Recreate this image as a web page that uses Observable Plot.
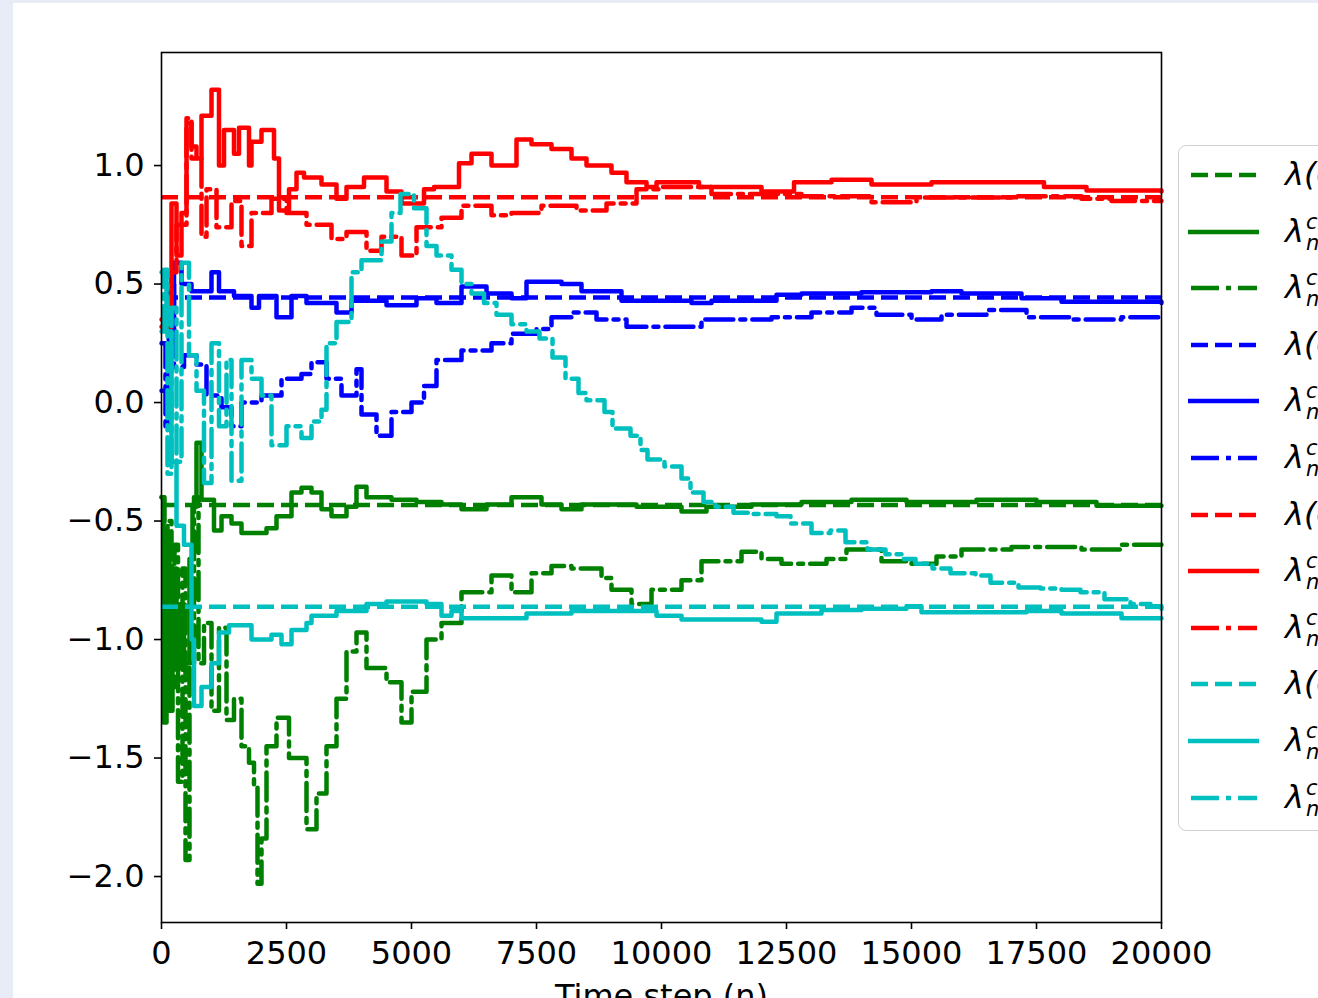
<!DOCTYPE html>
<html>
<head>
<meta charset="utf-8">
<script src="https://cdn.jsdelivr.net/npm/d3@7"></script>
<script src="https://cdn.jsdelivr.net/npm/@observablehq/plot@0.6"></script>
<style>
html,body{margin:0;padding:0;width:1318px;height:998px;overflow:hidden;background:#e8ecf7;}
#page{position:absolute;left:13px;top:3px;width:1305px;height:995px;background:#fff;overflow:hidden;}
#chart{position:absolute;left:-13px;top:-3px;}
#legend{position:absolute;left:1165px;top:142px;width:320px;height:684px;border:1.5px solid #d0d0d0;border-radius:8px;background:#fff;font-family:"DejaVu Sans",sans-serif;}
.row{position:absolute;left:0;height:56px;width:320px;}
.row svg{position:absolute;left:-3px;top:0;}
.lab{position:absolute;left:106px;top:6px;font-size:32px;font-style:oblique;line-height:40px;white-space:nowrap;color:#000;}
.lab .ss{display:inline-block;vertical-align:middle;font-size:21px;line-height:21px;margin-left:2px;}
</style>
</head>
<body>
<div id="page"><div id="chart"></div><div id="legend"></div></div>
<script>
// ---- data (time step, value) ----
const steps = [0, 2500, 5000, 7500, 10000, 12500, 15000, 17500, 20000];
const yTicks = [-2.0, -1.5, -1.0, -0.5, 0.0, 0.5, 1.0];
const colorNames = ["green", "blue", "red", "cyan"];
const trueLambda = [-0.432, 0.443, 0.866, -0.862];

const greenSolid = [[0,-0.40],[40,-1.35],[100,-0.60],[160,-1.30],[220,-0.70],[300,-1.10],[380,-0.85],[450,-1.10],[560,-0.66],[620,-0.44],[700,-0.17],[800,-0.41],[1050,-0.54],[1200,-0.48],[1400,-0.51],[1600,-0.55],[2100,-0.53],[2300,-0.48],[2600,-0.38],[2800,-0.36],[3000,-0.38],[3200,-0.45],[3400,-0.48],[3700,-0.44],[3900,-0.355],[4100,-0.40],[4600,-0.41],[5100,-0.42],[5600,-0.43],[6000,-0.45],[6500,-0.43],[7000,-0.40],[7600,-0.43],[8000,-0.45],[8400,-0.43],[9500,-0.44],[10400,-0.46],[10900,-0.44],[11800,-0.43],[12800,-0.42],[13800,-0.41],[14900,-0.42],[16300,-0.41],[17500,-0.42],[18700,-0.435],[20000,-0.435]];
const greenDashDot = [[0,-0.40],[60,-1.30],[120,-0.50],[200,-1.20],[260,-0.60],[330,-1.60],[420,-0.70],[480,-1.93],[560,-1.10],[650,-0.40],[740,-1.10],[850,-0.93],[1000,-1.30],[1150,-0.95],[1300,-1.34],[1450,-1.25],[1600,-1.45],[1750,-1.52],[1850,-1.62],[1920,-2.03],[2000,-1.84],[2100,-1.45],[2300,-1.33],[2550,-1.50],[2900,-1.80],[3100,-1.65],[3300,-1.45],[3500,-1.25],[3700,-1.05],[3900,-0.97],[4100,-1.12],[4500,-1.18],[4800,-1.35],[5000,-1.22],[5300,-1.00],[5600,-0.93],[6000,-0.80],[6600,-0.73],[7000,-0.80],[7400,-0.72],[7800,-0.69],[8200,-0.70],[8800,-0.74],[9000,-0.79],[9400,-0.85],[9800,-0.79],[10400,-0.75],[10800,-0.67],[11600,-0.63],[12000,-0.66],[12400,-0.68],[13300,-0.66],[13700,-0.62],[14400,-0.67],[15000,-0.68],[15500,-0.65],[16000,-0.62],[17000,-0.61],[18400,-0.62],[19200,-0.60],[20000,-0.60]];
const blueSolid = [[0,0.05],[150,0.30],[250,0.59],[400,0.50],[600,0.47],[1000,0.55],[1150,0.47],[1450,0.45],[1800,0.40],[1950,0.45],[2300,0.36],[2600,0.45],[2900,0.42],[3500,0.38],[3800,0.43],[4500,0.41],[5100,0.44],[5500,0.42],[6000,0.49],[6500,0.46],[7000,0.44],[7300,0.51],[8000,0.50],[8400,0.47],[9200,0.43],[10600,0.42],[11000,0.43],[12300,0.455],[12800,0.46],[14000,0.465],[15400,0.47],[16000,0.46],[17200,0.44],[18000,0.425],[20000,0.42]];
const blueDashDot = [[0,0.25],[80,-0.10],[150,0.50],[250,0.15],[450,0.20],[700,0.16],[900,0.03],[1200,-0.02],[1400,-0.10],[1600,0.0],[2000,0.03],[2400,0.10],[2800,0.12],[3000,0.17],[3300,0.10],[3600,0.03],[3900,0.14],[4000,-0.05],[4300,-0.14],[4600,-0.04],[5000,0.0],[5250,0.07],[5500,0.18],[6000,0.22],[6600,0.25],[7000,0.29],[7500,0.31],[7800,0.36],[8200,0.38],[8700,0.35],[9300,0.32],[10000,0.32],[10800,0.35],[12200,0.36],[13000,0.38],[13800,0.40],[14300,0.37],[15000,0.35],[15600,0.37],[16500,0.39],[17300,0.36],[18200,0.35],[19200,0.36],[20000,0.37]];
const redSolid = [[0,0.32],[200,0.84],[300,0.62],[400,0.80],[500,1.18],[600,1.08],[700,1.03],[800,1.21],[1000,1.32],[1150,1.00],[1250,1.15],[1450,1.05],[1550,1.16],[1750,1.00],[1800,1.10],[2000,1.15],[2250,1.03],[2350,0.81],[2550,0.90],[2700,0.97],[2850,0.95],[3200,0.92],[3500,0.86],[3700,0.91],[4050,0.95],[4500,0.89],[4800,0.84],[5250,0.90],[5450,0.91],[5950,1.01],[6200,1.05],[6600,1.00],[7100,1.11],[7400,1.09],[7800,1.07],[8200,1.03],[8500,1.00],[9000,0.97],[9300,0.93],[9700,0.91],[9900,0.93],[10750,0.91],[12000,0.89],[12650,0.93],[13400,0.94],[14200,0.92],[15400,0.93],[17650,0.91],[18500,0.895],[20000,0.89]];
const redDashDot = [[0,0.35],[200,0.55],[300,0.75],[500,1.20],[600,1.03],[800,0.70],[900,0.90],[1100,0.74],[1400,0.85],[1600,0.66],[1800,0.80],[2200,0.86],[2500,0.80],[2900,0.75],[3400,0.69],[3700,0.72],[4100,0.64],[4400,0.70],[4800,0.62],[5100,0.74],[5600,0.78],[6000,0.83],[6600,0.79],[7000,0.80],[7600,0.83],[8300,0.81],[8900,0.84],[9500,0.90],[10000,0.91],[11000,0.88],[12800,0.87],[14200,0.845],[15100,0.865],[17000,0.87],[18400,0.86],[19000,0.85],[20000,0.85]];
const cyanSolid = [[0,0.55],[100,0.30],[200,-0.25],[300,-0.52],[450,-0.60],[600,-1.00],[650,-1.28],[800,-1.20],[1000,-1.10],[1150,-0.97],[1350,-0.94],[1800,-1.00],[2200,-0.98],[2400,-1.02],[2600,-0.96],[2900,-0.93],[3000,-0.90],[3500,-0.88],[4100,-0.85],[4500,-0.84],[5300,-0.85],[5600,-0.90],[5800,-0.88],[6000,-0.91],[7300,-0.89],[8200,-0.88],[9900,-0.90],[10400,-0.915],[12000,-0.925],[12300,-0.89],[13200,-0.875],[14000,-0.87],[14900,-0.86],[15200,-0.885],[17300,-0.88],[18000,-0.89],[19200,-0.91],[20000,-0.91]];
const cyanDashDot = [[0,0.30],[50,0.56],[120,-0.30],[200,0.40],[300,-0.25],[400,0.59],[550,0.20],[700,0.05],[850,-0.34],[1000,0.25],[1150,-0.10],[1300,0.18],[1400,-0.33],[1600,0.18],[1800,0.10],[2000,0.03],[2200,-0.18],[2500,-0.10],[2800,-0.15],[3000,-0.08],[3200,-0.03],[3300,0.25],[3500,0.34],[3800,0.55],[4000,0.60],[4400,0.68],[4600,0.80],[4780,0.88],[5050,0.82],[5300,0.66],[5500,0.62],[5800,0.56],[6000,0.50],[6200,0.46],[6450,0.42],[6700,0.37],[7000,0.33],[7300,0.30],[7560,0.27],[7820,0.19],[8080,0.10],[8340,0.04],[8500,0.01],[8860,-0.04],[9020,-0.11],[9380,-0.14],[9580,-0.20],[9720,-0.24],[10060,-0.27],[10400,-0.32],[10580,-0.38],[10840,-0.42],[11080,-0.44],[11440,-0.465],[11780,-0.47],[12300,-0.48],[12580,-0.51],[13000,-0.55],[13380,-0.54],[13680,-0.59],[14120,-0.62],[14480,-0.64],[14800,-0.66],[15080,-0.68],[15420,-0.70],[15780,-0.72],[16280,-0.73],[16580,-0.76],[17140,-0.78],[17580,-0.785],[18000,-0.79],[18380,-0.80],[18860,-0.83],[19380,-0.85],[19780,-0.86],[20000,-0.87]];

const colors = {green:"#008000", blue:"#0000ff", red:"#ff0000", cyan:"#00bfbf"};
const solids = {green:greenSolid, blue:blueSolid, red:redSolid, cyan:cyanSolid};
const dashDots = {green:greenDashDot, blue:blueDashDot, red:redDashDot, cyan:cyanDashDot};
const DASH = "17,7", DASHDOT = "28,7,5,7", LW = 4.5;

const marks = [];
colorNames.forEach((c, i) => {
  marks.push(Plot.ruleY([trueLambda[i]], {stroke: colors[c], strokeWidth: LW, strokeDasharray: DASH}));
  marks.push(Plot.line(solids[c], {x: d => d[0], y: d => d[1], curve: "step-after", stroke: colors[c], strokeWidth: LW}));
  marks.push(Plot.line(dashDots[c], {x: d => d[0], y: d => d[1], curve: "step-after", stroke: colors[c], strokeWidth: LW, strokeDasharray: DASHDOT}));
});
marks.push(Plot.frame({stroke: "#000", strokeWidth: 1.6}));
marks.push(Plot.axisX({ticks: steps, tickFormat: d3.format("d"), tickSize: 7, tickPadding: 12, strokeWidth: 1.6, label: null}));
marks.push(Plot.axisY({ticks: yTicks, tickFormat: d3.format(".1f"), tickSize: 7, tickPadding: 10, strokeWidth: 1.6, label: null}));
marks.push(Plot.text(["Time step (n)"], {frameAnchor: "bottom", lineAnchor: "top", dy: 62, fontSize: 32, fill: "#000"}));

const chart = Plot.plot({
  width: 1170, height: 1040,
  marginLeft: 161, marginRight: 9, marginTop: 52, marginBottom: 118,
  x: {domain: [0, 20000]},
  y: {domain: [-2.194, 1.477]},
  style: {fontFamily: "DejaVu Sans, sans-serif", fontSize: "32px", color: "#000", background: "transparent", overflow: "visible"},
  marks
});
document.getElementById("chart").appendChild(chart);

// ---- legend ----
const legend = document.getElementById("legend");
let k = 0;
colorNames.forEach((c, i) => {
  [["dash", DASH], ["solid", null], ["dashdot", DASHDOT]].forEach(([kind, da]) => {
    const row = document.createElement("div");
    row.className = "row";
    row.style.top = (2 + k * 56.6) + "px";
    const x0 = kind === "solid" ? 12 : 15;
    const x1 = kind === "solid" ? 83 : 81;
    row.innerHTML = `<svg width="90" height="56"><line x1="${x0}" x2="${x1}" y1="27" y2="27" stroke="${colors[c]}" stroke-width="${LW}" ${da ? `stroke-dasharray="${da}"` : ""}/></svg>` +
      (kind === "dash"
        ? `<div class="lab">λ(θ<sub style="font-size:20px">${i + 1}</sub>)</div>`
        : `<div class="lab">λ<span class="ss">c${kind === "solid" ? "" : "'"}<br>n</span></div>`);
    legend.appendChild(row);
    k++;
  });
});
</script>
</body>
</html>
